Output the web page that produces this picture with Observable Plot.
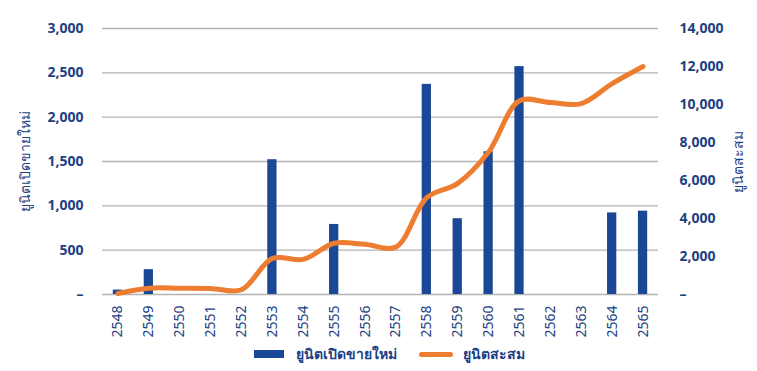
<!DOCTYPE html>
<html>
<head>
<meta charset="utf-8">
<script src="https://cdn.jsdelivr.net/npm/d3@7"></script>
<script src="https://cdn.jsdelivr.net/npm/@observablehq/plot@0.6"></script>
<style>
  html, body { margin: 0; padding: 0; background: #fff; }
  #chart { width: 757px; position: relative; font-family: "Noto Sans", "DejaVu Sans", sans-serif; }
  .legend { display: flex; justify-content: center; align-items: center; gap: 8px; height: 18px; margin-top: -1px;
    font-size: 14px; font-weight: 600; color: #1d3f84; padding-left: 22px; }
  .sw-bar { display: inline-block; width: 30px; height: 8px; background: #1a4896; margin-right: 4px; }
  .sw-line { display: inline-block; width: 34px; height: 5px; border-radius: 3px; background: #ed7d31; margin-left: 14px; margin-right: 2px; }
</style>
</head>
<body>
<div id="chart"></div>
<script>
const years = ["2548","2549","2550","2551","2552","2553","2554","2555","2556","2557","2558","2559","2560","2561","2562","2563","2564","2565"];
const newUnits = [50, 280, 0, 0, 0, 1520, 0, 790, 0, 0, 2370, 855, 1610, 2570, 0, 0, 920, 940];
const cumUnits = [50, 330, 330, 320, 250, 1900, 1850, 2700, 2640, 2500, 5100, 5850, 7500, 10200, 10100, 10050, 11100, 12000];
const leftTicks = [0, 500, 1000, 1500, 2000, 2500, 3000];
const rightTicks = [0, 2000, 4000, 6000, 8000, 10000, 12000, 14000];
const leftLabel = "ยูนิตเปิดขายใหม่";
const rightLabel = "ยูนิตสะสม";

const ratio = 3000 / 14000;
const fmt = v => v === 0 ? "–" : d3.format(",")(Math.round(v));
const barData = years.map((y, i) => ({year: y, value: newUnits[i]})).filter(d => d.value > 0);
const lineData = years.map((y, i) => ({year: y, value: cumUnits[i] * ratio}));

const textColor = "#1d3f84";
const chart = Plot.plot({
  width: 757,
  height: 346,
  marginTop: 28,
  marginBottom: 52,
  marginLeft: 102,
  marginRight: 99,
  style: {fontFamily: "'Noto Sans', 'DejaVu Sans', sans-serif", color: textColor, background: "#fff"},
  x: {domain: years, paddingInner: 0.7, paddingOuter: 0.35, round: false},
  y: {domain: [0, 3000]},
  marks: [
    Plot.gridY(leftTicks, {stroke: "#b3b3b3", strokeOpacity: 1, strokeWidth: 1.3}),
    Plot.barY(barData, {x: "year", y: "value", fill: "#1a4896"}),
    Plot.line(lineData, {x: "year", y: "value", stroke: "#ed7d31", strokeWidth: 5, curve: "catmull-rom", strokeLinecap: "round"}),
    Plot.axisY(leftTicks, {anchor: "left", tickSize: 0, tickPadding: 19, tickFormat: fmt, fontSize: 14, fontWeight: 700, fill: textColor, label: null}),
    Plot.axisY(rightTicks.map(v => v * ratio), {anchor: "right", tickSize: 0, tickPadding: 21, tickFormat: d => fmt(d / ratio), fontSize: 14, fontWeight: 700, fill: textColor, label: null}),
    Plot.axisX({anchor: "bottom", tickSize: 0, tickPadding: 11, tickRotate: -90, fontSize: 14, fill: textColor, label: null}),
    Plot.text([leftLabel], {frameAnchor: "left", dx: -77, rotate: -90, textAnchor: "middle", fontSize: 14, fill: textColor, fontWeight: 500}),
    Plot.text([rightLabel], {frameAnchor: "right", dx: 80, rotate: -90, textAnchor: "middle", fontSize: 14, fill: textColor, fontWeight: 500})
  ]
});
const root = document.getElementById("chart");
root.appendChild(chart);
const legend = document.createElement("div");
legend.className = "legend";
legend.innerHTML = `<span class="sw-bar"></span><span>${leftLabel}</span><span class="sw-line"></span><span>${rightLabel}</span>`;
root.appendChild(legend);
</script>
</body>
</html>
